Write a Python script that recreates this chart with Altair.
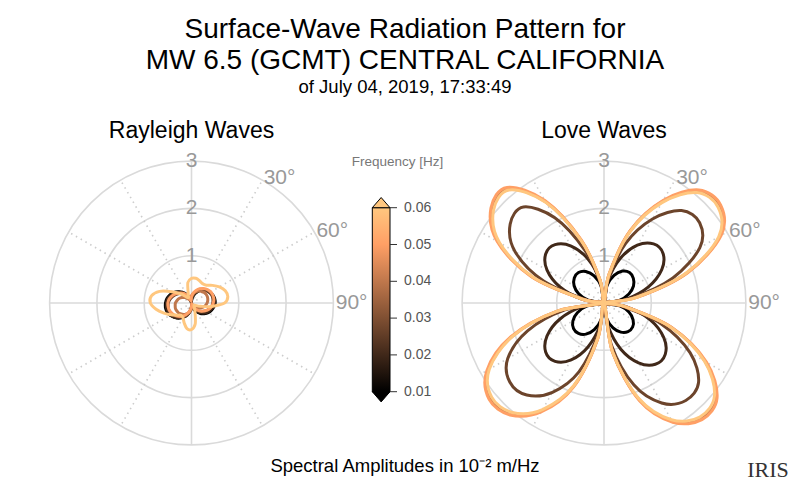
import math
import altair as alt
import pandas as pd

# ---------------------------------------------------------------- data
FREQS = [0.01, 0.02, 0.027, 0.04, 0.05, 0.06]
AZIMUTHS = list(range(0, 360, 10))          # degrees clockwise from north

# Rayleigh-wave spectral amplitude (10^-2 m/Hz) at each azimuth
RAYLEIGH_001 = [0.04, 0.13, 0.21, 0.29, 0.35, 0.41, 0.45, 0.48, 0.50, 0.50, 0.48, 0.45,
                0.41, 0.35, 0.29, 0.21, 0.13, 0.04, 0.08, 0.17, 0.26, 0.34, 0.42, 0.47,
                0.52, 0.55, 0.56, 0.55, 0.53, 0.49, 0.44, 0.37, 0.30, 0.21, 0.12, 0.02]
RAYLEIGH_002 = [0.07, 0.15, 0.23, 0.30, 0.36, 0.42, 0.45, 0.48, 0.49, 0.49, 0.47, 0.43,
                0.39, 0.33, 0.26, 0.18, 0.10, 0.02, 0.09, 0.18, 0.27, 0.35, 0.41, 0.47,
                0.51, 0.53, 0.54, 0.53, 0.51, 0.47, 0.41, 0.35, 0.27, 0.18, 0.09, 0.01]
RAYLEIGH_0027 = [0.10, 0.17, 0.24, 0.31, 0.36, 0.41, 0.44, 0.46, 0.46, 0.45, 0.43, 0.39,
                 0.34, 0.28, 0.22, 0.14, 0.06, 0.02, 0.10, 0.19, 0.27, 0.33, 0.39, 0.44,
                 0.48, 0.50, 0.50, 0.49, 0.46, 0.42, 0.37, 0.31, 0.23, 0.15, 0.07, 0.02]
RAYLEIGH_004 = [0.15, 0.20, 0.25, 0.29, 0.32, 0.35, 0.36, 0.36, 0.35, 0.33, 0.30, 0.26,
                0.21, 0.16, 0.10, 0.08, 0.08, 0.08, 0.12, 0.18, 0.23, 0.28, 0.31, 0.34,
                0.35, 0.36, 0.35, 0.34, 0.31, 0.28, 0.23, 0.18, 0.12, 0.08, 0.08, 0.09]
RAYLEIGH_005 = [0.13, 0.21, 0.28, 0.35, 0.40, 0.44, 0.47, 0.48, 0.48, 0.46, 0.43, 0.39,
                0.33, 0.27, 0.20, 0.12, 0.03, 0.02, 0.07, 0.15, 0.23, 0.31, 0.37, 0.42,
                0.46, 0.49, 0.50, 0.50, 0.48, 0.44, 0.39, 0.33, 0.27, 0.19, 0.10, 0.05]
RAYLEIGH_006 = [0.52, 0.53, 0.50, 0.47, 0.49, 0.58, 0.68, 0.76, 0.78, 0.70, 0.42, 0.20,
                0.10, 0.07, 0.08, 0.12, 0.22, 0.45, 0.56, 0.55, 0.45, 0.36, 0.34, 0.40,
                0.50, 0.62, 0.76, 0.87, 0.86, 0.72, 0.48, 0.30, 0.17, 0.13, 0.20, 0.44]

# Love-wave spectral amplitude (10^-2 m/Hz) at each azimuth
LOVE_001 = [0, 0.38, 0.62, 0.78, 0.84, 0.81, 0.72, 0.56, 0.33,
            0, 0.34, 0.56, 0.71, 0.79, 0.79, 0.71, 0.56, 0.34,
            0, 0.36, 0.60, 0.76, 0.84, 0.84, 0.76, 0.60, 0.36,
            0, 0.34, 0.57, 0.73, 0.82, 0.84, 0.77, 0.61, 0.37]
LOVE_002 = [0, 0.48, 1.00, 1.41, 1.63, 1.63, 1.41, 1.00, 0.48,
            0, 0.50, 1.04, 1.46, 1.69, 1.69, 1.46, 1.04, 0.50,
            0, 0.48, 0.99, 1.39, 1.61, 1.61, 1.39, 0.99, 0.48,
            0, 0.48, 0.99, 1.39, 1.61, 1.61, 1.39, 0.99, 0.48]
LOVE_0027 = [0, 0.50, 1.34, 2.05, 2.55, 2.64, 2.34, 1.55, 0.59,
             0, 0.38, 1.28, 2.10, 2.61, 2.69, 2.44, 1.84, 0.90,
             0, 0.63, 1.55, 2.18, 2.54, 2.60, 2.35, 1.72, 0.84,
             0, 0.38, 1.36, 2.17, 2.59, 2.65, 2.08, 1.19, 0.43]
LOVE_004 = [0, 0.61, 1.62, 2.48, 3.08, 3.18, 2.83, 1.87, 0.71,
            0, 0.45, 1.52, 2.47, 3.08, 3.18, 2.88, 2.17, 1.06,
            0, 0.76, 1.87, 2.63, 3.05, 3.13, 2.83, 2.07, 1.01,
            0, 0.45, 1.62, 2.58, 3.08, 3.15, 2.47, 1.41, 0.50]
LOVE_005 = [0, 0.62, 1.64, 2.51, 3.12, 3.22, 2.86, 1.89, 0.72,
            0, 0.46, 1.53, 2.50, 3.12, 3.22, 2.91, 2.20, 1.07,
            0, 0.77, 1.89, 2.66, 3.09, 3.17, 2.86, 2.10, 1.02,
            0, 0.46, 1.64, 2.61, 3.12, 3.19, 2.50, 1.43, 0.51]
LOVE_006 = [0, 0.60, 1.60, 2.45, 3.05, 3.15, 2.80, 1.85, 0.70,
            0, 0.45, 1.50, 2.45, 3.05, 3.15, 2.85, 2.15, 1.05,
            0, 0.75, 1.85, 2.60, 3.02, 3.10, 2.80, 2.05, 1.00,
            0, 0.45, 1.60, 2.55, 3.05, 3.12, 2.45, 1.40, 0.50]

RAYLEIGH = dict(zip(FREQS, [RAYLEIGH_001, RAYLEIGH_002, RAYLEIGH_0027,
                            RAYLEIGH_004, RAYLEIGH_005, RAYLEIGH_006]))
LOVE = dict(zip(FREQS, [LOVE_001, LOVE_002, LOVE_0027, LOVE_004, LOVE_005, LOVE_006]))

PANELS = ["Rayleigh Waves", "Love Waves"]
RING_VALUES = [1, 2, 3]
RAY_ANGLES = list(range(0, 360, 30))
ANGLE_LABELS = [30, 60, 90]
FREQ_TICKS = [0.01, 0.02, 0.03, 0.04, 0.05, 0.06]
COPPER_STOPS = [(0.0, "#000000"), (0.8, "#ff9f65"), (1.0, "#ffc77f")]

TITLE_LINES = ["Surface-Wave Radiation Pattern for", "MW 6.5 (GCMT) CENTRAL CALIFORNIA"]
SUBTITLE = "of July 04, 2019, 17:33:49"
BOTTOM_TEXT = "Spectral Amplitudes in 10\u207b\u00b2 m/Hz"

# ---------------------------------------------------------------- layout
FONT = "Liberation Sans"
PX = 47.3                     # pixels per amplitude unit
W, H = 784, 385               # plot area
PAD_TOP = 92
CX_PX = [183.5, 596.0]        # panel centres inside the plot area
CY_PX = 203.0
XDOM = [-CX_PX[0] / PX, (W - CX_PX[0]) / PX]
YDOM = [-(H - CY_PX) / PX, CY_PX / PX]
CENTERS = [0.0, (CX_PX[1] - CX_PX[0]) / PX]
R_MAX = max(RING_VALUES)


def ux(page_x):
    return (page_x - 8 - CX_PX[0]) / PX


def uy(page_y):
    return (CY_PX - (page_y - 8 - PAD_TOP)) / PX


xs = alt.Scale(domain=XDOM, nice=False, zero=False)
ys = alt.Scale(domain=YDOM, nice=False, zero=False)


def X(f):
    return alt.X(f, type="quantitative", scale=xs, axis=None)


def Y(f):
    return alt.Y(f, type="quantitative", scale=ys, axis=None)


def X2(f):
    return alt.X2(f)


def Y2(f):
    return alt.Y2(f)


# ---------------------------------------------------------------- grid
ring_df = pd.DataFrame([{"x": c, "y": 0.0, "size": (2 * r * PX) ** 2}
                        for c in CENTERS for r in RING_VALUES])
rings = alt.Chart(ring_df).mark_point(
    shape="circle", filled=False, color="#dadada", strokeWidth=1.6, opacity=1
).encode(x=X("x"), y=Y("y"), size=alt.Size("size:Q", scale=None))

ray_rows = []
for c in CENTERS:
    for a in RAY_ANGLES:
        ray_rows.append({"x": c, "y": 0.0,
                         "x2": c + R_MAX * math.sin(math.radians(a)),
                         "y2": R_MAX * math.cos(math.radians(a)),
                         "dotted": a % 90 != 0})
ray_df = pd.DataFrame(ray_rows)
rays_solid = alt.Chart(ray_df[~ray_df.dotted]).mark_rule(
    color="#dadada", strokeWidth=1.6
).encode(x=X("x"), y=Y("y"), x2=X2("x2"), y2=Y2("y2"))
rays_dotted = alt.Chart(ray_df[ray_df.dotted]).mark_rule(
    color="#cccccc", strokeWidth=1.6, strokeDash=[1.5, 4]
).encode(x=X("x"), y=Y("y"), x2=X2("x2"), y2=Y2("y2"))

rlab_df = pd.DataFrame([{"x": c, "y": float(r), "label": str(r)}
                        for c in CENTERS for r in RING_VALUES])
radial_labels = alt.Chart(rlab_df).mark_text(
    font=FONT, fontSize=21, color="#999999", align="center", baseline="middle"
).encode(x=X("x"), y=Y("y"), text="label:N")

alab_df = pd.DataFrame([{"x": c + 3.05 * math.sin(math.radians(a)),
                         "y": 3.05 * math.cos(math.radians(a)),
                         "label": f"{a}\u00b0"}
                        for c in CENTERS for a in ANGLE_LABELS])
angle_labels = alt.Chart(alab_df).mark_text(
    font=FONT, fontSize=21, color="#999999", align="left", baseline="middle"
).encode(x=X("x"), y=Y("y"), text="label:N")

ptitle_df = pd.DataFrame({"x": CENTERS, "y": [uy(131)] * 2, "label": PANELS})
panel_titles = alt.Chart(ptitle_df).mark_text(
    font=FONT, fontSize=23, color="black", align="center", baseline="middle"
).encode(x=X("x"), y=Y("y"), text="label:N")

# ---------------------------------------------------------------- curves
rows = []
for panel, c, table in ((PANELS[0], CENTERS[0], RAYLEIGH), (PANELS[1], CENTERS[1], LOVE)):
    for f in FREQS:
        for az, r in zip(AZIMUTHS, table[f]):
            rows.append({"panel": panel, "cx": c, "freq": f, "az": az, "r": r})
curve_df = pd.DataFrame(rows)

color_scale = alt.Scale(domain=[FREQS[0], 0.05, FREQS[-1]],
                        range=[s[1] for s in COPPER_STOPS], interpolate="rgb")

curve_layers = []
for f in FREQS:
    curve_layers.append(
        alt.Chart(curve_df[curve_df.freq == f]).transform_calculate(
            px="datum.cx + datum.r * sin(datum.az * PI / 180)",
            py="datum.r * cos(datum.az * PI / 180)",
        ).mark_line(
            interpolate="cardinal-closed", strokeWidth=3, strokeJoin="round", strokeCap="round"
        ).encode(
            x=X("px"), y=Y("py"),
            color=alt.Color("freq:Q", scale=color_scale, legend=None),
            detail="panel:N", order=alt.Order("az:Q"),
        )
    )

# ---------------------------------------------------------------- colour bar
F_LO, F_HI = FREQ_TICKS[0], FREQ_TICKS[-1]
CB_Y_LO, CB_Y_HI = uy(391.7), uy(207.7)
CB_X0, CB_X1 = ux(372.3), ux(390.0)
CB_W_PX = (CB_X1 - CB_X0) * PX


def fy(f):
    return CB_Y_LO + (f - F_LO) / (F_HI - F_LO) * (CB_Y_HI - CB_Y_LO)


cb_df = pd.DataFrame({"x": [CB_X0], "x2": [CB_X1], "y": [fy(F_LO)], "y2": [fy(F_HI)]})
gradient = {"gradient": "linear", "x1": 0, "y1": 1, "x2": 0, "y2": 0,
            "stops": [{"offset": o, "color": col} for o, col in COPPER_STOPS]}
cb_rect = alt.Chart(cb_df).mark_rect(fill=gradient, stroke="black", strokeWidth=1).encode(
    x=X("x"), x2=X2("x2"), y=Y("y"), y2=Y2("y2"))

tri_df_top = pd.DataFrame({"x": [(CB_X0 + CB_X1) / 2], "y": [fy(F_HI)]})
tri_df_bot = pd.DataFrame({"x": [(CB_X0 + CB_X1) / 2], "y": [fy(F_LO)]})
tri_top = alt.Chart(tri_df_top).mark_point(
    shape="M-1,0L1,0L0,-1.15Z", filled=True, fill=COPPER_STOPS[-1][1], stroke="black",
    strokeWidth=1, size=CB_W_PX ** 2, opacity=1
).encode(x=X("x"), y=Y("y"))
tri_bot = alt.Chart(tri_df_bot).mark_point(
    shape="M-1,0L1,0L0,1.15Z", filled=True, fill=COPPER_STOPS[0][1], stroke="black",
    strokeWidth=1, size=CB_W_PX ** 2, opacity=1
).encode(x=X("x"), y=Y("y"))

tick_df = pd.DataFrame({"x": [CB_X1] * len(FREQ_TICKS), "x2": [CB_X1 + 7 / PX] * len(FREQ_TICKS),
                        "y": [fy(t) for t in FREQ_TICKS],
                        "tx": [ux(404)] * len(FREQ_TICKS),
                        "label": [f"{t:.2f}" for t in FREQ_TICKS]})
cb_ticks = alt.Chart(tick_df).mark_rule(color="#333333", strokeWidth=1).encode(
    x=X("x"), x2=X2("x2"), y=Y("y"))
cb_labels = alt.Chart(tick_df).mark_text(
    font=FONT, fontSize=14, color="#555555", align="left", baseline="middle"
).encode(x=X("tx"), y=Y("y"), text="label:N")
cb_title = alt.Chart(pd.DataFrame({"x": [ux(397.5)], "y": [uy(162)], "label": ["Frequency [Hz]"]})
                     ).mark_text(font=FONT, fontSize=13.5, color="#777777",
                                 align="center", baseline="middle"
                                 ).encode(x=X("x"), y=Y("y"), text="label:N")

# ---------------------------------------------------------------- footer
bottom = alt.Chart(pd.DataFrame({"x": [ux(405)], "y": [uy(466)], "label": [BOTTOM_TEXT]})
                   ).mark_text(font=FONT, fontSize=18.5, color="black",
                               align="center", baseline="middle"
                               ).encode(x=X("x"), y=Y("y"), text="label:N")
iris = alt.Chart(pd.DataFrame({"x": [ux(768)], "y": [uy(470)], "label": ["IRIS"]})
                 ).mark_text(font="Liberation Serif", fontSize=22, color="#333333",
                             align="center", baseline="middle"
                             ).encode(x=X("x"), y=Y("y"), text="label:N")

chart = alt.layer(
    rings, rays_solid, rays_dotted, radial_labels, angle_labels, panel_titles,
    *curve_layers,
    cb_rect, tri_top, tri_bot, cb_ticks, cb_labels, cb_title, bottom, iris,
).properties(
    width=W, height=H,
    autosize=alt.AutoSizeParams(type="none"),
    padding={"left": 0, "top": PAD_TOP, "right": 0, "bottom": 0},
    title=alt.TitleParams(
        text=TITLE_LINES, subtitle=SUBTITLE, font=FONT, subtitleFont=FONT,
        fontSize=28, lineHeight=31, fontWeight="normal", color="black",
        subtitleFontSize=18.5, subtitleColor="black", subtitlePadding=3,
        anchor="middle", dx=5, offset=4,
    ),
).configure_view(strokeWidth=0)

chart.save("out.html", embed_options={"renderer": "svg", "actions": False})
